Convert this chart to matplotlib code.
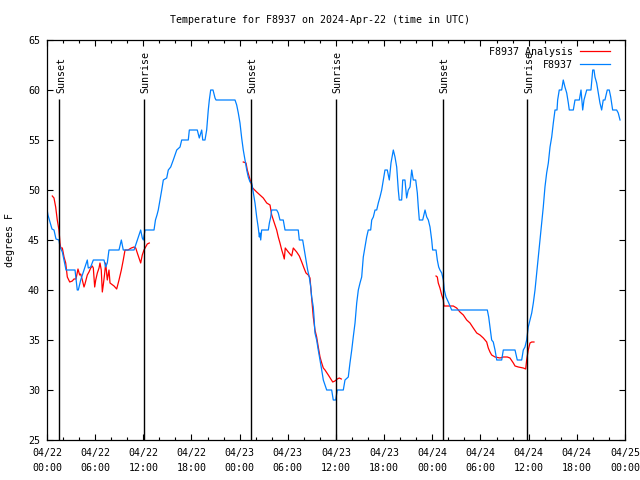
import numpy as np
import matplotlib
matplotlib.use('Agg')
import matplotlib.pyplot as plt
from matplotlib.ticker import MultipleLocator

# ===========================
# data (hours after 2024-04-22 00:00 UTC, degrees F)
# ===========================
NAN = float('nan')

OBS_H = [0.00, 0.12, 0.37, 0.62, 0.87, 1.12, 1.49, 1.62, 1.91, 2.12, 2.37, 3.49, 3.77, 3.90,
         4.20, 4.61, 5.02, 5.14, 5.44, 5.77, 7.10, 7.31, 7.51, 7.72, 8.97, 9.26, 9.50, 10.84,
         11.25, 11.67, 11.87, 12.00, 12.21, 13.33, 13.51, 13.70, 13.86, 14.08, 14.29, 14.49,
         14.91, 15.11, 15.41, 15.73, 16.16, 16.57, 16.78, 17.60, 17.73, 18.72, 18.97, 19.27,
         19.40, 19.68, 19.89, 20.09, 20.22, 20.39, 20.68, 20.93, 21.05, 23.42, 23.63, 23.83,
         24.04, 24.25, 24.45, 24.88, 25.07, 25.29, 25.50, 25.70, 25.91, 26.12, 26.32, 26.45,
         26.53, 26.62, 26.74, 27.57, 27.70, 27.87, 27.99, 28.61, 28.81, 29.02, 29.43, 29.65,
         31.30, 31.43, 31.85, 32.01, 32.26, 32.47, 32.67, 32.85, 32.97, 33.17, 33.26, 33.38,
         33.59, 33.79, 34.01, 34.22, 34.42, 34.84, 35.46, 35.66, 35.96, 36.16, 36.91, 37.12,
         37.53, 37.74, 37.96, 38.15, 38.37, 38.58, 38.78, 38.99, 39.20, 39.40, 39.61, 39.82,
         40.02, 40.32, 40.45, 40.65, 40.86, 41.07, 41.27, 41.48, 41.69, 41.89, 42.10, 42.39,
         42.64, 42.85, 43.14, 43.35, 43.56, 43.76, 43.88, 44.18, 44.31, 44.59, 44.80, 45.00,
         45.22, 45.43, 45.63, 45.93, 46.13, 46.25, 46.38, 46.80, 47.09, 47.30, 47.50, 47.71,
         47.92, 48.04, 48.46, 48.62, 48.79, 48.95, 49.17, 49.37, 49.49, 49.70, 49.99, 50.41,
         54.85, 55.02, 55.18, 55.39, 55.59, 55.81, 56.02, 56.64, 56.84, 58.30, 58.58, 59.13,
         59.33, 59.54, 59.75, 59.95, 60.16, 60.38, 60.58, 60.79, 61.00, 61.20, 61.41, 61.62,
         61.82, 62.03, 62.24, 62.45, 62.66, 62.87, 63.07, 63.28, 63.53, 63.61, 63.81, 64.11,
         64.31, 64.52, 64.74, 64.94, 65.06, 65.56, 65.77, 66.31, 66.52, 66.73, 66.89, 67.23,
         67.76, 67.98, 68.14, 68.26, 68.47, 68.67, 68.88, 69.09, 69.29, 69.50, 69.79, 70.04,
         70.22, 70.46, 70.96, 71.16, 71.38]
OBS_T = [48.1, 47.5, 46.8, 46.1, 46.0, 45.1, 45.0, 44.3, 43.8, 43.0, 42.0, 42.0, 40.0, 40.0,
         41.0, 42.0, 43.0, 42.2, 42.3, 43.0, 43.0, 42.3, 42.7, 44.0, 44.0, 45.0, 44.0, 44.0,
         45.0, 46.0, 45.2, 45.0, 46.0, 46.0, 47.0, 47.5, 48.0, 49.0, 50.0, 51.0,
         51.2, 52.0, 52.3, 53.0, 54.0, 54.3, 55.0, 55.0, 56.0, 56.0, 55.2, 56.0,
         55.0, 55.0, 56.0, 58.0, 59.0, 60.0, 60.0, 59.2, 59.0, 59.0, 58.5, 57.7,
         56.7, 55.2, 54.0, 52.0, 51.3, 50.8, 50.7, 49.7, 48.7, 47.3, 46.2, 45.3,
         45.7, 45.0, 46.0, 46.0, 46.7, 47.3, 48.0, 48.0, 47.7, 47.0, 47.0, 46.0,
         46.0, 45.0, 45.0, 44.2, 43.0, 42.0, 41.3, 40.3, 39.3, 38.3, 37.3, 35.7,
         35.0, 34.0, 33.0, 32.0, 31.0, 30.0, 30.0, 29.0, 29.0, 30.0, 30.0, 31.0,
         31.3, 32.7, 34.0, 35.3, 36.7, 38.7, 40.0, 40.7, 41.3, 43.3, 44.3, 45.3,
         46.0, 46.0, 47.0, 47.3, 48.0, 48.0, 48.7, 49.3, 50.0, 51.0, 52.0, 52.0,
         51.0, 52.7, 54.0, 53.3, 52.3, 50.0, 49.0, 49.0, 51.0, 51.0, 49.2, 50.0,
         50.3, 52.0, 51.0, 51.0, 49.7, 48.3, 47.0, 47.0, 48.0, 47.3, 47.0, 46.3,
         45.0, 44.0, 44.0, 43.0, 42.3, 42.0, 41.7, 41.0, 40.0, 39.3, 38.8, 38.0,
         38.0, 37.3, 36.3, 35.0, 34.8, 34.0, 33.0, 33.0, 34.0, 34.0, 33.0, 33.0,
         34.0, 34.3, 35.0, 36.3, 37.0, 37.7, 38.7, 40.0, 41.7, 43.3, 45.0, 46.7,
         48.3, 50.3, 51.7, 52.7, 54.3, 55.3, 56.7, 58.0, 58.0, 59.0, 60.0, 60.0,
         61.0, 60.3, 59.7, 58.7, 58.0, 58.0, 59.0, 59.0, 60.0, 58.0, 59.0, 60.0,
         60.0, 62.0, 62.0, 61.3, 60.7, 59.7, 58.7, 58.0, 59.0, 59.0, 60.0, 60.0,
         59.3, 58.0, 58.0, 57.7, 57.0]

# analysis series, NaN separates the three runs
ANA_H = [0.66, 0.87, 1.08, 1.28, 1.49, 1.62, 1.71, 1.91, 2.12, 2.33, 2.53, 2.83, 3.15, 3.36,
         3.61, 3.86, 4.07, 4.20, 4.40, 4.61, 4.73, 5.02, 5.23, 5.44, 5.64, 5.77, 5.94, 6.07,
         6.27, 6.48, 6.60, 6.76, 6.89, 7.01, 7.19, 7.31, 7.51, 7.72, 7.85, 8.35, 8.68, 8.97,
         9.26, 9.50, 9.72, 10.09, 10.50, 10.84, 11.05, 11.25, 11.67, 11.87, 12.08, 12.49, 12.74,
         NAN,
         24.45, 24.79, 24.95, 25.20, 25.41, 25.62, 26.12, 26.53, 26.94, 27.37, 27.78, 27.99,
         28.19, 28.40, 28.61, 28.81, 29.02, 29.24, 29.43, 29.56, 29.68, 30.06, 30.48, 30.68,
         31.10, 31.43, 31.73, 32.01, 32.26, 32.55, 32.76, 32.85, 33.01, 33.17, 33.38, 33.59,
         33.79, 34.01, 34.22, 34.42, 34.63, 35.04, 35.59, 35.87, 36.16, 36.41, 36.66,
         NAN,
         48.46, 48.62, 48.74, 48.95, 49.17, 49.37, 49.45, 50.61, 51.03, 51.44, 51.86, 52.28,
         52.69, 53.10, 53.53, 53.94, 54.35, 54.77, 54.97, 55.18, 55.39, 55.81, 56.43, 56.84,
         57.34, 57.67, 58.09, 58.30, 58.71, 59.33, 59.63, 59.75, 59.95, 60.16, 60.38, 60.66]
ANA_T = [49.4, 49.2, 48.3, 47.0, 46.0, 44.7, 44.2, 44.2, 43.3, 42.7, 41.3, 40.8, 40.9, 41.1,
         41.1, 42.1, 41.5, 41.6, 41.0, 40.3, 40.6, 41.5, 41.8, 42.2, 42.4, 42.2, 40.3, 41.0,
         41.7, 42.2, 42.7, 42.0, 39.8, 40.5, 41.7, 42.7, 41.0, 42.0, 40.7, 40.4, 40.1, 41.0,
         42.0, 43.0, 44.0, 44.0, 44.2, 44.3, 44.2, 43.7, 42.7, 43.5, 44.0, 44.6, 44.7,
         NAN,
         52.8, 52.7, 52.0, 51.3, 50.7, 50.2, 49.8, 49.5, 49.2, 48.7, 48.5, 47.5,
         47.0, 46.5, 46.0, 45.3, 44.7, 44.0, 43.5, 43.1, 44.2, 43.8, 43.4, 44.2,
         43.8, 43.4, 42.8, 42.2, 41.7, 41.5, 41.2, 40.3, 38.8, 37.3, 36.0, 35.3,
         34.3, 33.3, 32.7, 32.2, 32.0, 31.5, 30.8, 30.9, 31.1, 31.2, 31.1,
         NAN,
         41.4, 41.3, 40.7, 40.2, 39.5, 39.0, 38.4, 38.4, 38.2, 37.8, 37.5, 37.0,
         36.7, 36.2, 35.7, 35.5, 35.2, 34.8, 34.2, 33.8, 33.5, 33.3, 33.2, 33.3,
         33.3, 33.2, 32.7, 32.4, 32.3, 32.2, 32.1, 33.0, 34.0, 34.7, 34.8, 34.8]

SUN_H = [1.53, 12.08, 25.42, 35.96, 49.36, 59.83]
SUN_LABELS = ["Sunset", "Sunrise", "Sunset", "Sunrise", "Sunset", "Sunrise"]

XTICK_H = list(range(0, 73, 6))
XTICK_LABELS = ["04/22\n00:00", "04/22\n06:00", "04/22\n12:00", "04/22\n18:00",
                "04/23\n00:00", "04/23\n06:00", "04/23\n12:00", "04/23\n18:00",
                "04/24\n00:00", "04/24\n06:00", "04/24\n12:00", "04/24\n18:00",
                "04/25\n00:00"]

# ===========================
# plot
# ===========================
plt.rcParams['font.family'] = ['DejaVu Sans Mono']
plt.rcParams['font.size'] = 7.2

fig = plt.figure(figsize=(6.4, 4.8), dpi=100)
ax = fig.add_axes([47 / 640, 40 / 480, 578 / 640, 400 / 480])

ax.plot(ANA_H, ANA_T, color='#ff0000', lw=0.9, label='F8937 Analysis')
ax.plot(OBS_H, OBS_T, color='#0080ff', lw=0.9, label='F8937')

for h, lab in zip(SUN_H, SUN_LABELS):
    ax.vlines(h, 25, 59.1, color='black', lw=1.0)
    ax.text(h + 0.2, 59.7, lab, rotation=90, ha='center', va='bottom')

ax.set_xlim(0, 72)
ax.set_ylim(25, 65)
ax.set_xticks(XTICK_H)
ax.set_xticklabels(XTICK_LABELS, linespacing=1.6)
ax.xaxis.set_minor_locator(MultipleLocator(2))
ax.set_yticks(range(25, 66, 5))
ax.tick_params(which='both', direction='in', top=True, right=True, width=0.8)
ax.tick_params(which='major', length=4.5)
ax.tick_params(which='minor', length=2.2)
ax.tick_params(axis='x', pad=6)
ax.tick_params(axis='y', pad=5)
for s in ax.spines.values():
    s.set_linewidth(0.9)

# legend sits a bit left of the corner, overlapping the last Sunrise label
ax.legend(loc='upper right', bbox_to_anchor=(0.986, 1.0), frameon=False, markerfirst=False,
          handlelength=3.0, handletextpad=0.7, labelspacing=0.3, borderaxespad=0.3)

fig.text(0.5, 1 - 20 / 480, "Temperature for F8937 on 2024-Apr-22 (time in UTC)",
         ha='center', va='center')
fig.text(10 / 640, 0.5, "degrees F", rotation=90, ha='center', va='center')

plt.savefig('out.png', dpi=100)
plt.close()
